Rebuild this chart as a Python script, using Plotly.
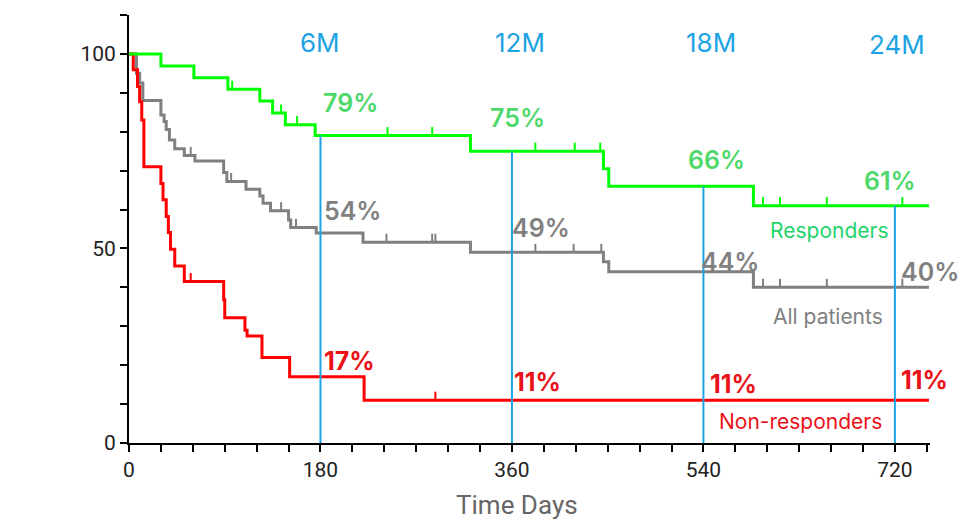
import plotly.graph_objects as go

# Kaplan-Meier step data (day of event, survival % after the event)
resp_days = [0, 30, 61, 93, 123, 135, 147, 175, 321, 446, 451, 587, 752]
resp_surv = [100, 96.9, 93.9, 90.9, 87.9, 84.8, 81.8, 79, 75, 70.5, 66, 61, 61]
resp_censor = [97, 143, 158, 243, 285, 382, 419, 443, 596, 612, 656, 727]

all_days = [0, 7, 10, 13, 30, 33, 35, 38, 43, 52, 62, 89, 92, 110, 123, 126,
            133, 150, 152, 176, 220, 321, 446, 451, 587, 752]
all_surv = [100, 95, 92.5, 88, 84.3, 82.6, 80.6, 77.9, 75.6, 73.9, 72.5, 69.5,
            67.2, 65.2, 63.5, 61.6, 59.7, 57.3, 55.4, 54, 51.6, 49, 46.6, 44, 40, 40]
all_censor = [58, 96, 143, 157, 242, 285, 288, 382, 418, 444, 596, 612, 656, 727]

nonresp_days = [0, 4, 8, 10, 12, 14, 30, 32, 35, 37, 39, 43, 52, 89, 90, 109,
                111, 125, 151, 221, 752]
nonresp_surv = [100, 95.9, 91.6, 87.7, 83, 71, 66.7, 62.5, 58.2, 54.1, 49.8,
                45.5, 41.5, 36.8, 32.2, 29, 27.5, 22, 17, 11, 11]
nonresp_censor = [58, 288]

# Landmark time points
landmark_days = [180, 360, 540, 720]
landmark_names = ["6M", "12M", "18M", "24M"]
resp_pct = [79, 75, 66, 61]
all_pct = [54, 49, 44, 40]
nonresp_pct = [17, 11, 11, 11]

x_tick_labels = {0: "0", 180: "180", 360: "360", 540: "540", 720: "720"}
y_tick_labels = {0: "0", 50: "50", 100: "100"}

GREEN = "#00ff00"
GREEN_TXT = "#4fd86a"
GREEN_NAME = "#1fd46c"
GRAY = "#808080"
RED = "#ff0000"
RED_TXT = "#ea1219"
BLUE = "#1da3e3"
FONT = "Inter, Lato, sans-serif"
NARROW = "Roboto, sans-serif"


def censor_segments(days, steps_x, steps_y, height=2.2):
    xs, ys = [], []
    for d in days:
        level = steps_y[0]
        for t, v in zip(steps_x, steps_y):
            if t <= d:
                level = v
        xs += [d, d, None]
        ys += [level, level + height, None]
    return xs, ys


fig = go.Figure()

for days, surv, cens, color in [
    (all_days, all_surv, all_censor, GRAY),
    (nonresp_days, nonresp_surv, nonresp_censor, RED),
    (resp_days, resp_surv, resp_censor, GREEN),
]:
    fig.add_trace(go.Scatter(x=days, y=surv, mode="lines",
                             line=dict(color=color, width=3, shape="hv"),
                             hoverinfo="skip", showlegend=False))
    cx, cy = censor_segments(cens, days, surv)
    fig.add_trace(go.Scatter(x=cx, y=cy, mode="lines",
                             line=dict(color=color, width=2),
                             hoverinfo="skip", showlegend=False))

# Landmark verticals up to the responder curve
vx, vy = [], []
for d, p in zip(landmark_days, resp_pct):
    vx += [d, d, None]
    vy += [0, p, None]
fig.add_trace(go.Scatter(x=vx, y=vy, mode="lines",
                         line=dict(color=BLUE, width=2),
                         hoverinfo="skip", showlegend=False))

annotations = []

# Landmark headings (x in days, y in %)
heading_pos = [(180, 103), (368, 103), (547, 103), (722, 102.3)]
for (hx, hy), name in zip(heading_pos, landmark_names):
    annotations.append(dict(x=hx, y=hy, text=name, showarrow=False,
                            font=dict(family=FONT, size=26, color=BLUE)))

resp_pos = [(208, 87.4), (365, 83.5), (552, 72.7), (715, 67.3)]
all_pos = [(210, 59.6), (387, 55.2), (565, 46.5), (753, 43.9)]
nonresp_pos = [(207, 21), (384, 15.6), (568, 15.1), (748, 16.1)]

for pos, vals, color, weight in [
    (resp_pos, resp_pct, GREEN_TXT, 600),
    (all_pos, all_pct, GRAY, 600),
    (nonresp_pos, nonresp_pct, RED_TXT, 700),
]:
    for (px, py), v in zip(pos, vals):
        annotations.append(dict(x=px, y=py, text=f"{v}%", showarrow=False,
                                font=dict(family=FONT, size=25, color=color,
                                          weight=weight)))

for text, (px, py), color in [
    ("Responders", (658, 54.7), GREEN_NAME),
    ("All patients", (657, 32.4), GRAY),
    ("Non-responders", (631, 5.4), RED_TXT),
]:
    annotations.append(dict(x=px, y=py, text=text, showarrow=False,
                            font=dict(family=FONT, size=21, color=color)))

# Axis title, centred under the day ticks
annotations.append(dict(x=365, y=0, xref="x", yref="paper", yanchor="middle",
                        yshift=-62, text="Time Days", showarrow=False,
                        font=dict(family=NARROW, size=26, color="#666")))

fig.update_layout(
    width=958, height=519,
    margin=dict(l=129, r=28, t=15, b=76),
    paper_bgcolor="white", plot_bgcolor="white",
    annotations=annotations,
    xaxis=dict(
        range=[0, 753], showgrid=False, zeroline=False,
        showline=True, linecolor="black", linewidth=2,
        ticks="outside", ticklen=7, tickwidth=1.5, tickcolor="black",
        tickvals=list(range(0, 751, 30)),
        ticktext=[x_tick_labels.get(v, "") for v in range(0, 751, 30)],
        tickfont=dict(family=NARROW, size=21, color="#222"),
    ),
    yaxis=dict(
        range=[0, 110], showgrid=False, zeroline=False,
        showline=True, linecolor="black", linewidth=2,
        ticks="outside", ticklen=7, tickwidth=1.5, tickcolor="black",
        tickvals=list(range(0, 111, 10)),
        ticktext=[y_tick_labels.get(v, "") for v in range(0, 111, 10)],
        tickfont=dict(family=NARROW, size=21, color="#222"),
    ),
)

fig.write_html("out.html")
